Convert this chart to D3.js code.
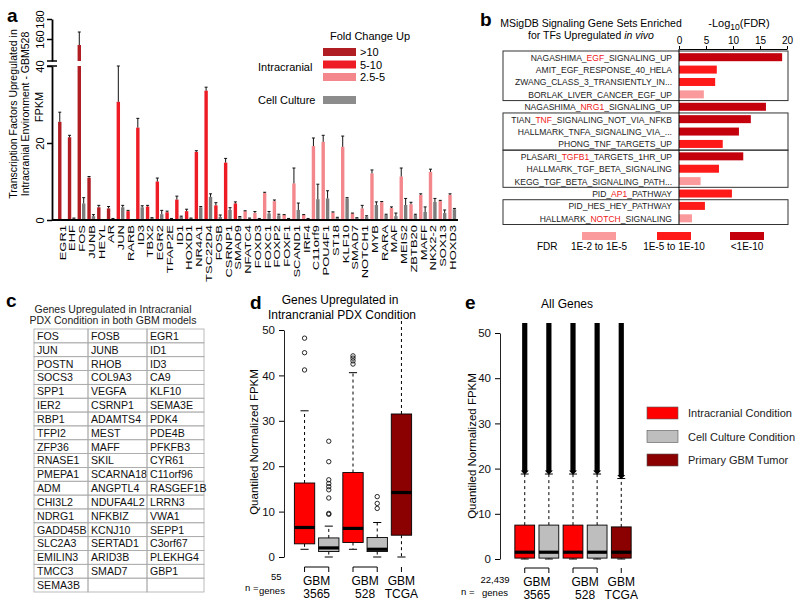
<!DOCTYPE html>
<html>
<head>
<meta charset="utf-8">
<script src="https://cdn.jsdelivr.net/npm/d3@7"></script>
<style>
body { margin: 0; background: #fff; }
svg { font-family: Arial, "Liberation Sans", sans-serif; }
</style>
</head>
<body>
<svg id="fig" width="800" height="608"></svg>
<script>
// --- panel a: TFs upregulated (FPKM) ---
var genesA = ['EGR1','EHF','FOS','JUNB','HEYL','AR','JUN','RARB','ID3','TBX2','EGR2','TFAP2E','ID1','HOXD1','NR4A1','TSC22D4','FOSB','CSRNP1','SMAD9','NFATC4','FOXD3','FOXC1','FOXP2','FOXF1','SCAND1','IRF4','C11orf9','POU4F1','ST18','KLF10','SMAD7','NOTCH1','MYB','RARA','MAF','MEIS2','ZBTB20','MAFF','NKX2-2','SOX13','HOXD3'];
var icVals = [25.5,21.5,154,11,3.3,3,30.7,2.3,24,3.5,10,2,5.3,2.3,17.7,33.6,3.8,14.9,4.3,2.3,1.8,7.0,4.9,1.3,9.5,1.3,19.2,20.3,1.9,19,1.7,3,12.1,4.6,3.1,11.3,4.1,6.5,12.5,4.9,6.5];
var icErr = [2.5,0.5,13,0.3,0.5,0.5,9.3,0.2,2.4,0.3,0.9,0.3,0.9,0.5,0.3,0.9,0.7,1.1,0.4,0.1,0.4,0.2,0.3,0.1,4,0.1,2.1,1.7,0.2,2.8,0.1,0.8,0.9,0.2,0.3,2.2,0.5,0.3,0.7,0.2,0.3];
var ccVals = [0.1,0.4,4.3,1,0.1,0.3,3.3,0.1,3.3,0.5,1.5,0.3,0.8,0.4,3.3,6,0.8,2.6,0.8,0.4,0.3,1.7,1.2,0.3,2.6,0.3,5.4,5.6,0.6,5.6,0.5,0.9,3.9,1.3,1,3.9,1.3,2.1,4.7,1.8,2.8];
var ccErr = [0,0.1,1.5,0.4,0,0.1,0.5,0,0.4,0.1,1,0.1,0.2,0.1,0.2,0.8,0.5,0.6,0.1,0.1,0.1,0.5,0.3,0.1,1.8,0.1,3.9,2,0.1,0.2,0.1,0.2,0.8,0.2,0.8,1.7,0.2,1.3,0.9,0.8,0.2];
var foldClassA = ['>10','>10','>10','>10','>10','>10',
  '5-10','5-10','5-10','5-10','5-10','5-10','5-10','5-10','5-10','5-10','5-10','5-10','5-10',
  '2.5-5','2.5-5','2.5-5','2.5-5','2.5-5','2.5-5','2.5-5','2.5-5','2.5-5','2.5-5','2.5-5','2.5-5','2.5-5','2.5-5','2.5-5','2.5-5','2.5-5','2.5-5','2.5-5','2.5-5','2.5-5','2.5-5'];
var foldLevels = ['>10','5-10','2.5-5'];
var foldColors = ['#b01e24','#ee1c25','#f4878b'];
var yTicksLow = [0, 20, 40];
var yTicksHigh = [160, 180];

// --- panel b: MSigDB gene sets ---
var setNames = ['NAGASHIMA_EGF_SIGNALING_UP','AMIT_EGF_RESPONSE_40_HELA','ZWANG_CLASS_3_TRANSIENTLY_IN...','BORLAK_LIVER_CANCER_EGF_UP','NAGASHIMA_NRG1_SIGNALING_UP','TIAN_TNF_SIGNALING_NOT_VIA_NFKB','HALLMARK_TNFA_SIGNALING_VIA_...','PHONG_TNF_TARGETS_UP','PLASARI_TGFB1_TARGETS_1HR_UP','HALLMARK_TGF_BETA_SIGNALING','KEGG_TGF_BETA_SIGNALING_PATH...','PID_AP1_PATHWAY','PID_HES_HEY_PATHWAY','HALLMARK_NOTCH_SIGNALING'];
var setHighlight = ['EGF','','','','NRG1','TNF','','','TGFB1','','','AP1','','NOTCH'];
var setLogFdr = [19.1,7.0,6.7,4.6,16.1,13.3,11.1,8.1,11.9,7.4,4.0,9.8,4.8,2.4];
var setFdrClass = ['<1E-10','1E-5 to 1E-10','1E-5 to 1E-10','1E-2 to 1E-5','<1E-10','<1E-10','<1E-10','1E-5 to 1E-10','<1E-10','1E-5 to 1E-10','1E-2 to 1E-5','1E-5 to 1E-10','1E-5 to 1E-10','1E-2 to 1E-5'];
var setGroups = [[0,3],[5,7],[8,10],[12,13]];
var fdrLevels = ['1E-2 to 1E-5','1E-5 to 1E-10','<1E-10'];
var fdrColors = ['#fb9a9c','#ff1a1a','#c4000d'];
var xTicksB = [0,5,10,15,20];

// --- panel c: gene table ---
var tableRows = [
  ['FOS','FOSB','EGR1'],['JUN','JUNB','ID1'],['POSTN','RHOB','ID3'],['SOCS3','COL9A3','CA9'],
  ['SPP1','VEGFA','KLF10'],['IER2','CSRNP1','SEMA3E'],['RBP1','ADAMTS4','PDK4'],['TFPI2','MEST','PDE4B'],
  ['ZFP36','MAFF','PFKFB3'],['RNASE1','SKIL','CYR61'],['PMEPA1','SCARNA18','C11orf96'],['ADM','ANGPTL4','RASGEF1B'],
  ['CHI3L2','NDUFA4L2','LRRN3'],['NDRG1','NFKBIZ','VWA1'],['GADD45B','KCNJ10','SEPP1'],['SLC2A3','SERTAD1','C3orf67'],
  ['EMILIN3','ARID3B','PLEKHG4'],['TMCC3','SMAD7','GBP1'],['SEMA3B','','']];

// --- panels d/e: boxplots ---
var boxGroups = ['3565 IC','3565 CC','528 IC','528 CC','TCGA'];
var boxColors = ['#ff0000','#bebebe','#ff0000','#bebebe','#8b0000'];
var dLo = [1.7,0,1.7,0,0];
var dQ1 = [2.9,1.2,3.2,1.2,4.8];
var dMed = [6.5,2,6.3,1.7,14.2];
var dQ3 = [16.3,4.2,18.6,4.3,31.5];
var dHi = [32.2,6.8,40.6,7.6,60];
var dOut = [[48.2,45,41.2],[25.5,21,17,16.2,15.5,14.8,13,9.6,9.4],[44.3,43.8,43.2,42.5],[13.3,11.8,10.7],[]];
var eLo = [0,0,0,0,0];
var eQ1 = [0.2,0.2,0.2,0.2,0.2];
var eMed = [1.5,1.5,1.5,1.5,1.5];
var eQ3 = [7.5,7.5,7.5,7.5,7.1];
var eHi = [18.8,18.8,18.8,18.8,17.8];
var eOutLo = [19.3,19.3,19.3,19.3,18.3];
var eOutHi = [600,600,600,600,600];
var yTicksDE = [0,10,20,30,40,50];
var legendE = ['Intracranial Condition','Cell Culture Condition','Primary GBM Tumor'];
var legendEColors = ['#ff0000','#bebebe','#8b0000'];
var cohortLabels = [['GBM','3565'],['GBM','528'],['GBM','TCGA']];

var svg = d3.select('#fig');

function letter(txt, x, y) {
  svg.append('text').attr('x', x).attr('y', y).attr('font-size', 19).attr('font-weight', 'bold').text(txt);
}

// ================= panel a =================
letter('a', 7, 22);
var gA = svg.append('g');
var xA = d3.scaleBand().domain(genesA).range([57, 457]);
var yLow = d3.scaleLinear().domain([0, 40]).range([220, 66]);
var yHigh = d3.scaleLinear().domain([138, 180]).range([61, 19]);
var colA = d3.scaleOrdinal().domain(foldLevels).range(foldColors);
function yA(v) { return v <= 40 ? yLow(v) : yHigh(v); }

var step = xA.bandwidth();
genesA.forEach(function(g, i) {
  var cx = xA(g) + step / 2;
  var bars = [
    {x: cx - 3.8, v: icVals[i], e: icErr[i], c: colA(foldClassA[i])},
    {x: cx + 0.6, v: ccVals[i], e: ccErr[i], c: '#7d7d7d'}
  ];
  bars.forEach(function(b) {
    if (b.v > 40) {
      gA.append('rect').attr('x', b.x).attr('width', 3.4).attr('y', yLow(40)).attr('height', yLow(0) - yLow(40)).attr('fill', b.c);
      gA.append('rect').attr('x', b.x).attr('width', 3.4).attr('y', yHigh(b.v)).attr('height', yHigh(138) - yHigh(b.v)).attr('fill', b.c);
    } else {
      gA.append('rect').attr('x', b.x).attr('width', 3.4).attr('y', yLow(b.v)).attr('height', yLow(0) - yLow(b.v)).attr('fill', b.c);
    }
    if (b.e > 0) {
      var mx = b.x + 1.7;
      gA.append('line').attr('x1', mx).attr('x2', mx).attr('y1', yA(b.v)).attr('y2', yA(b.v + b.e)).attr('stroke', '#111').attr('stroke-width', 1);
      gA.append('line').attr('x1', mx - 1.5).attr('x2', mx + 1.5).attr('y1', yA(b.v + b.e)).attr('y2', yA(b.v + b.e)).attr('stroke', '#111').attr('stroke-width', 1);
    }
  });
  gA.append('text').attr('transform', 'translate(' + (cx + 0.3) + ',225) rotate(-90) scale(1.18,0.88)')
    .attr('text-anchor', 'end').attr('dy', '0.36em').attr('font-size', 11).text(g);
});

// axes (broken)
var axLow = gA.append('g').attr('transform', 'translate(52,0)')
  .call(d3.axisLeft(yLow).tickValues(yTicksLow).tickSize(5).tickSizeOuter(0));
var axHigh = gA.append('g').attr('transform', 'translate(52,0)')
  .call(d3.axisLeft(yHigh).tickValues(yTicksHigh).tickSize(5).tickSizeOuter(0));
[axLow, axHigh].forEach(function(ax) {
  ax.select('.domain').attr('stroke-width', 1.8);
  ax.selectAll('.tick line').attr('stroke-width', 1.5);
  ax.selectAll('.tick text').attr('x', null).attr('dy', null)
    .attr('transform', 'translate(-8,0) rotate(-90)').attr('text-anchor', 'middle')
    .attr('font-size', 11).attr('fill', '#000');
});
gA.append('line').attr('x1', 47).attr('x2', 57).attr('y1', yHigh(138)).attr('y2', yHigh(138)).attr('stroke', '#000').attr('stroke-width', 1.5);
gA.append('line').attr('x1', 47).attr('x2', 57).attr('y1', yLow(40)).attr('y2', yLow(40)).attr('stroke', '#000').attr('stroke-width', 1.5);
gA.append('line').attr('x1', 52).attr('x2', 458).attr('y1', 220).attr('y2', 220).attr('stroke', '#000').attr('stroke-width', 1.8);

gA.append('text').attr('transform', 'translate(17,114) rotate(-90)').attr('text-anchor', 'middle')
  .attr('font-size', 10.5).text('Transcription Factors Upregulated in');
gA.append('text').attr('transform', 'translate(28.5,114) rotate(-90)').attr('text-anchor', 'middle')
  .attr('font-size', 10.5).text('Intracranial Environment - GBM528');
gA.append('text').attr('transform', 'translate(43,107) rotate(-90)').attr('text-anchor', 'middle')
  .attr('font-size', 11).text('FPKM');

// legend a
gA.append('text').attr('x', 370).attr('y', 40).attr('text-anchor', 'middle').attr('font-size', 11).text('Fold Change Up');
foldLevels.forEach(function(f, i) {
  var y = 48 + i * 12.5;
  gA.append('rect').attr('x', 323).attr('y', y).attr('width', 33).attr('height', 8).attr('fill', foldColors[i]);
  gA.append('text').attr('x', 360).attr('y', y + 8).attr('font-size', 11).text(f);
});
gA.append('text').attr('x', 258).attr('y', 71).attr('font-size', 11).text('Intracranial');
gA.append('text').attr('x', 258).attr('y', 104).attr('font-size', 11).text('Cell Culture');
gA.append('rect').attr('x', 323).attr('y', 96).attr('width', 33).attr('height', 8).attr('fill', '#8c8c8c');

// ================= panel b =================
letter('b', 480, 26);
var gB = svg.append('g');
var xB = d3.scaleLinear().domain([0, 20]).range([679, 787]);
var yB = d3.scaleBand().domain(d3.range(setNames.length)).range([51, 224.5]);
var colB = d3.scaleOrdinal().domain(fdrLevels).range(fdrColors);

gB.append('text').attr('x', 591).attr('y', 27).attr('text-anchor', 'middle').attr('font-size', 10.5).text('MSigDB Signaling Gene Sets Enriched');
var t2 = gB.append('text').attr('x', 591).attr('y', 38.5).attr('text-anchor', 'middle').attr('font-size', 10.5);
t2.append('tspan').text('for TFs Upregulated ');
t2.append('tspan').attr('font-style', 'italic').text('in vivo');
var t3 = gB.append('text').attr('x', 739).attr('y', 27).attr('text-anchor', 'middle').attr('font-size', 11);
t3.append('tspan').text('-Log');
t3.append('tspan').attr('font-size', 8.5).attr('dy', 3).text('10');
t3.append('tspan').attr('dy', -3).text('(FDR)');

var axB = gB.append('g').attr('transform', 'translate(0,49)')
  .call(d3.axisTop(xB).tickValues(xTicksB).tickSize(3).tickSizeOuter(0).tickPadding(2));
axB.selectAll('.tick text').attr('font-size', 10).attr('fill', '#000');

setNames.forEach(function(n, i) {
  var cy = yB(i) + yB.bandwidth() / 2;
  gB.append('rect').attr('x', xB(0)).attr('y', cy - 4).attr('width', xB(setLogFdr[i]) - xB(0)).attr('height', 8)
    .attr('fill', colB(setFdrClass[i]));
  var t = gB.append('text').attr('transform', 'translate(672,' + (cy + 3.5) + ') scale(0.89,1)')
    .attr('text-anchor', 'end').attr('font-size', 9.6).attr('fill', '#222');
  var h = setHighlight[i];
  if (h) {
    var k = n.indexOf('_' + h + '_') + 1;
    t.append('tspan').text(n.slice(0, k));
    t.append('tspan').attr('fill', '#ee2020').text(h);
    t.append('tspan').text(n.slice(k + h.length));
  } else {
    t.text(n);
  }
});
setGroups.forEach(function(gr) {
  gB.append('rect').attr('x', 503).attr('y', yB(gr[0])).attr('width', 285)
    .attr('height', yB(gr[1]) + yB.step() - yB(gr[0])).attr('fill', 'none').attr('stroke', '#333').attr('stroke-width', 1);
});
gB.append('line').attr('x1', xB(0)).attr('x2', xB(0)).attr('y1', 49).attr('y2', 224.5).attr('stroke', '#000');

// FDR legend
gB.append('text').attr('x', 537).attr('y', 250).attr('font-size', 10).text('FDR');
var legX = [582, 657, 730];
fdrLevels.forEach(function(f, i) {
  gB.append('rect').attr('x', legX[i]).attr('y', 232).attr('width', 34).attr('height', 8).attr('fill', fdrColors[i]);
  gB.append('text').attr('x', legX[i] + 17).attr('y', 250).attr('text-anchor', 'middle').attr('font-size', 10).text(f);
});

// ================= panel c =================
letter('c', 6, 307);
var gC = svg.append('g');
gC.append('text').attr('x', 113).attr('y', 313).attr('text-anchor', 'middle').attr('font-size', 10.5).attr('fill', '#222').text('Genes Upregulated in Intracranial');
gC.append('text').attr('x', 113).attr('y', 324).attr('text-anchor', 'middle').attr('font-size', 10.5).attr('fill', '#222').text('PDX Condition in both GBM models');
var colX = [34, 88, 147, 204];
var rowY = d3.scaleBand().domain(d3.range(tableRows.length)).range([329, 592]);
tableRows.forEach(function(r, i) {
  r.forEach(function(cell, j) {
    gC.append('rect').attr('x', colX[j]).attr('y', rowY(i)).attr('width', colX[j + 1] - colX[j]).attr('height', rowY.step())
      .attr('fill', 'none').attr('stroke', '#aaa').attr('stroke-width', 0.8);
    gC.append('text').attr('x', colX[j] + 3).attr('y', rowY(i) + rowY.step() - 3).attr('font-size', 10.6).attr('fill', '#111').text(cell);
  });
});

// ================= boxplot helper =================
function boxplot(g, x, y, i, st, clipTop) {
  var cx = x(boxGroups[i]) + x.bandwidth() / 2, w = x.bandwidth();
  var top = Math.max(y(st.hi[i]), clipTop);
  g.append('line').attr('x1', cx).attr('x2', cx).attr('y1', y(st.q3[i])).attr('y2', top)
    .attr('stroke', '#000').attr('stroke-dasharray', '3,3');
  g.append('line').attr('x1', cx).attr('x2', cx).attr('y1', y(st.q1[i])).attr('y2', y(st.lo[i]))
    .attr('stroke', '#000').attr('stroke-dasharray', '3,3');
  if (y(st.hi[i]) >= clipTop) {
    g.append('line').attr('x1', cx - w * 0.2).attr('x2', cx + w * 0.2).attr('y1', y(st.hi[i])).attr('y2', y(st.hi[i])).attr('stroke', '#000');
  }
  g.append('line').attr('x1', cx - w * 0.2).attr('x2', cx + w * 0.2).attr('y1', y(st.lo[i])).attr('y2', y(st.lo[i])).attr('stroke', '#000');
  g.append('rect').attr('x', cx - w / 2).attr('y', y(st.q3[i])).attr('width', w).attr('height', y(st.q1[i]) - y(st.q3[i]))
    .attr('fill', boxColors[i]).attr('stroke', '#000').attr('stroke-width', 0.9);
  g.append('line').attr('x1', cx - w / 2).attr('x2', cx + w / 2).attr('y1', y(st.med[i])).attr('y2', y(st.med[i]))
    .attr('stroke', '#000').attr('stroke-width', 3.2);
  return cx;
}

function yAxisDE(g, y, ax) {
  var a = g.append('g').attr('transform', 'translate(' + ax + ',0)')
    .call(d3.axisLeft(y).tickValues(yTicksDE).tickSize(5).tickSizeOuter(0).tickPadding(4));
  a.selectAll('.tick text').attr('font-size', 11.5).attr('fill', '#111');
  a.select('.domain').attr('stroke', '#222');
}

function cohorts(g, x, yb) {
  [[0, 1], [2, 3], [4, 4]].forEach(function(p, k) {
    var x1 = x(boxGroups[p[0]]) + x.bandwidth() / 2, x2 = x(boxGroups[p[1]]) + x.bandwidth() / 2;
    if (p[0] === p[1]) {
      g.append('line').attr('x1', x1).attr('x2', x1).attr('y1', yb).attr('y2', yb + 5).attr('stroke', '#000');
    } else {
      g.append('path').attr('d', 'M' + x1 + ',' + (yb + 5) + 'V' + yb + 'H' + x2 + 'V' + (yb + 5)).attr('fill', 'none').attr('stroke', '#000');
    }
    var mx = (x1 + x2) / 2;
    g.append('text').attr('x', mx).attr('y', yb + 18).attr('text-anchor', 'middle').attr('font-size', 12).text(cohortLabels[k][0]);
    g.append('text').attr('x', mx).attr('y', yb + 31).attr('text-anchor', 'middle').attr('font-size', 12).text(cohortLabels[k][1]);
  });
}

// ================= panel d =================
letter('d', 250, 309);
var gD = svg.append('g');
var xD = d3.scaleBand().domain(boxGroups).range([290.5, 415.5]).padding(0.16);
var yD = d3.scaleLinear().domain([0, 50]).range([557, 330]);
gD.append('text').attr('x', 340).attr('y', 304).attr('text-anchor', 'middle').attr('font-size', 12).text('Genes Upregulated in');
gD.append('text').attr('x', 342).attr('y', 319).attr('text-anchor', 'middle').attr('font-size', 12).text('Intrancranial PDX Condition');
yAxisDE(gD, yD, 284);
gD.append('text').attr('transform', 'translate(258,442) rotate(-90)').attr('text-anchor', 'middle').attr('font-size', 11.5).text('Quantiled Normalized FPKM');
var stD = {lo: dLo, q1: dQ1, med: dMed, q3: dQ3, hi: dHi};
boxGroups.forEach(function(b, i) {
  var cx = boxplot(gD, xD, yD, i, stD, 321);
  dOut[i].forEach(function(v) {
    gD.append('circle').attr('cx', cx).attr('cy', yD(v)).attr('r', 2.2).attr('fill', 'none').attr('stroke', '#111').attr('stroke-width', 0.9);
  });
});
cohorts(gD, xD, 567);
gD.append('text').attr('x', 245).attr('y', 591).attr('font-size', 9.5).text('n =');
gD.append('text').attr('x', 271).attr('y', 580).attr('font-size', 9.5).text('55');
gD.append('text').attr('x', 259).attr('y', 594).attr('font-size', 9.5).text('genes');

// ================= panel e =================
letter('e', 465, 309);
var gE = svg.append('g');
var xE = d3.scaleBand().domain(boxGroups).range([510.5, 635.5]).padding(0.18);
var yE = d3.scaleLinear().domain([0, 50]).range([559, 333]);
gE.append('text').attr('x', 567).attr('y', 308).attr('text-anchor', 'middle').attr('font-size', 12).text('All Genes');
yAxisDE(gE, yE, 500);
gE.append('text').attr('transform', 'translate(476,446) rotate(-90)').attr('text-anchor', 'middle').attr('font-size', 11.5).text('Quantiled Normalized FPKM');
var stE = {lo: eLo, q1: eQ1, med: eMed, q3: eQ3, hi: eHi};
boxGroups.forEach(function(b, i) {
  var cx = boxplot(gE, xE, yE, i, stE, 323);
  // dense outliers render as a solid column
  var yTop = Math.max(yE(eOutHi[i]), 323);
  gE.append('rect').attr('x', cx - 2.6).attr('y', yTop).attr('width', 5.2).attr('height', yE(eOutLo[i]) - yTop).attr('fill', '#000');
  gE.append('path').attr('d', 'M' + (cx - 4) + ',' + yE(eOutLo[i] + 0.3) + 'L' + (cx + 4) + ',' + yE(eOutLo[i] + 0.3) + 'L' + cx + ',' + (yE(eOutLo[i]) + 3) + 'Z').attr('fill', '#000');
});
cohorts(gE, xE, 568);
gE.append('text').attr('x', 461).attr('y', 595).attr('font-size', 9.5).text('n =');
gE.append('text').attr('x', 495).attr('y', 583).attr('text-anchor', 'middle').attr('font-size', 9.5).text('22,439');
gE.append('text').attr('x', 495).attr('y', 596).attr('text-anchor', 'middle').attr('font-size', 9.5).text('genes');

legendE.forEach(function(l, i) {
  var y = 407 + i * 23.5;
  gE.append('rect').attr('x', 647).attr('y', y).attr('width', 31).attr('height', 12).attr('fill', legendEColors[i]).attr('stroke', '#555').attr('stroke-width', 0.6);
  gE.append('text').attr('x', 688).attr('y', y + 10).attr('font-size', 11).attr('fill', '#222').text(l);
});
</script>
</body>
</html>
